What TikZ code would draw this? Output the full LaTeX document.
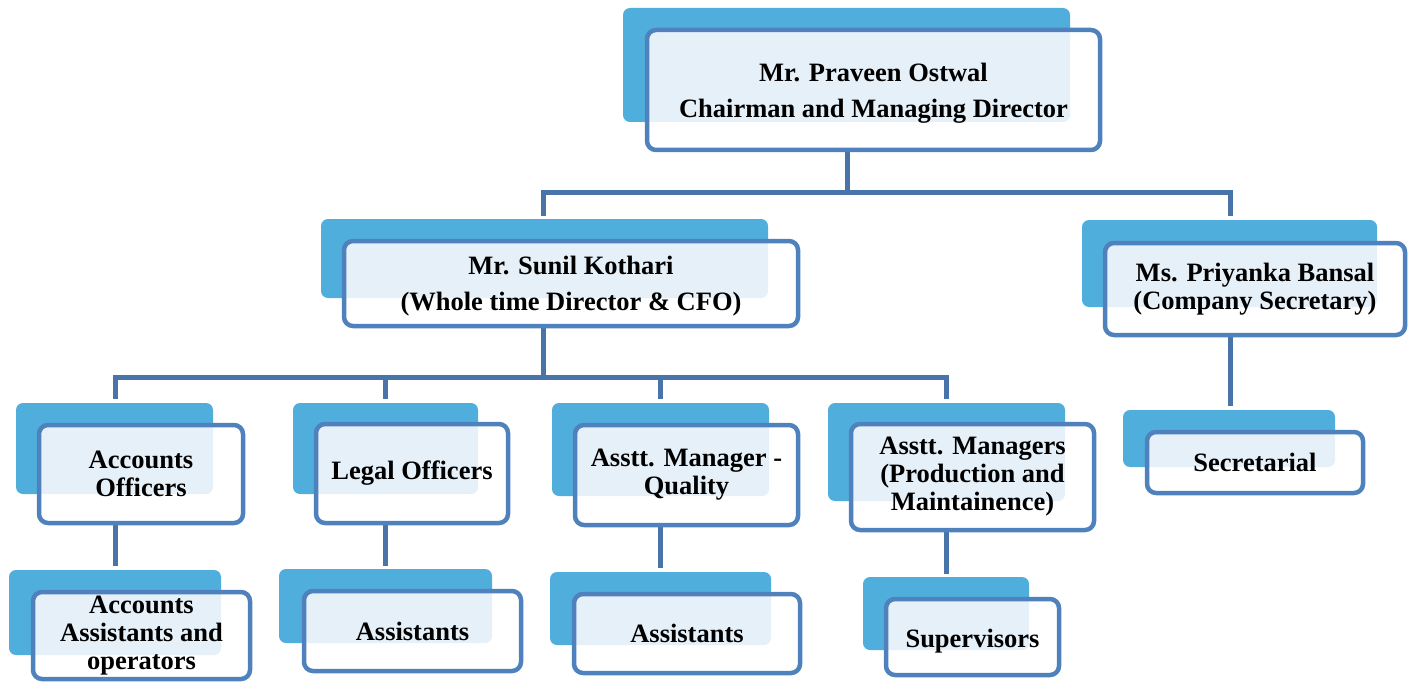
\documentclass[tikz,border=0pt]{standalone}
\usepackage{fontspec}
\setmainfont{Liberation Serif}
\usetikzlibrary{fit}
\definecolor{backc}{RGB}{79,174,219}
\definecolor{edgec}{RGB}{79,129,189}
\definecolor{connc}{RGB}{72,116,170}
\definecolor{dotc}{RGB}{230,240,248}
\pgfdeclarelayer{bg}
\pgfsetlayers{bg,main}
\tikzset{
 backbox/.style={fill=backc, rounded corners=7pt},
 frontbox/.style={draw=edgec, line width=4.5pt, rounded corners=9pt, inner sep=0pt, outer sep=0pt},
 txtwide/.style={font=\bfseries\fontsize{26.5}{36}\selectfont, align=center, inner sep=0pt, yshift=-3pt},
 txtnarrow/.style={font=\bfseries\fontsize{26.5}{28}\selectfont, align=center, inner sep=0pt},
 txtlow/.style={txtnarrow, yshift=-4pt},
 conn/.style={draw=connc, line width=5pt, line cap=rect},
}
\newcommand\obox[7]{%
 \fill[backbox] #2 rectangle #3;
 \fill[white, rounded corners=9pt] #4 rectangle #5;
 \begin{scope}
 \clip[rounded corners=9pt] #4 rectangle #5;
 \fill[dotc, rounded corners=7pt] #2 rectangle #3;
 \end{scope}
 \node[frontbox, fit={#4 #5}] (#1) {};
 \node[#6] (#1t) at (#1.center) {#7};
}
\begin{document}
\begin{tikzpicture}[x=1pt,y=-1pt]
\useasboundingbox (0,0) rectangle (1411,682);

\obox{top}{(623,8)}{(1070,122)}{(647,30)}{(1100,150)}{txtwide}{Mr. Praveen Ostwal\\Chairman and Managing Director}
\obox{sunil}{(321,219)}{(768,298)}{(344,241)}{(798,326)}{txtwide}{Mr. Sunil Kothari\\(Whole time Director \& CFO)}
\obox{pri}{(1082,220)}{(1377,307)}{(1105,243)}{(1405,335)}{txtnarrow}{Ms. Priyanka Bansal\\(Company Secretary)}
\obox{sec}{(1123,410)}{(1335,467)}{(1147,432)}{(1363,493)}{txtnarrow}{Secretarial}
\obox{accoff}{(16,403)}{(213,494)}{(39,425)}{(243,523)}{txtnarrow}{Accounts\\Officers}
\obox{accass}{(9,570)}{(221,655)}{(33,592)}{(250,679)}{txtnarrow}{Accounts\\Assistants and\\operators}
\obox{legal}{(293,403)}{(478,494)}{(316,424)}{(508,523)}{txtnarrow}{Legal Officers}
\obox{legass}{(279,569)}{(492,643)}{(304,591)}{(521,671)}{txtnarrow}{Assistants}
\obox{qual}{(552,403)}{(769,496)}{(575,425)}{(798,525)}{txtnarrow}{Asstt. Manager -\\Quality}
\obox{qualass}{(550,572)}{(771,645)}{(574,594)}{(800,673)}{txtnarrow}{Assistants}
\obox{mgr}{(828,403)}{(1065,501)}{(851,424)}{(1094,530)}{txtnarrow}{Asstt. Managers\\(Production and\\Maintainence)}
\obox{sup}{(863,577)}{(1029,650)}{(886,599)}{(1059,675)}{txtlow}{Supervisors}

\coordinate (tj) at (847,192);
\coordinate (busL) at (543,192);
\coordinate (busR) at (1230,192);
\coordinate (sunilIn) at (543,213);
\coordinate (priIn) at (1230,213);
\coordinate (sb) at (543,377);
\coordinate (sbL) at (115,377);
\coordinate (sbR) at (946,377);
\coordinate (d1) at (115,396);
\coordinate (d2) at (385,396);
\coordinate (d3) at (660,396);
\coordinate (d4) at (946,396);
\coordinate (e1) at (115,563);
\coordinate (e2) at (385,563);
\coordinate (e3) at (660,565);
\coordinate (e4) at (946,571);
\coordinate (e5) at (1230,403);

\begin{pgfonlayer}{bg}
\draw[conn] (tj |- top.south) -- (tj);
\draw[conn] (busL) -- (busR);
\draw[conn] (busL) -- (sunilIn);
\draw[conn] (busR) -- (priIn);
\draw[conn] (sb |- sunil.south) -- (sb);
\draw[conn] (sbL) -- (sbR);
\draw[conn] (d1 |- sbL) -- (d1);
\draw[conn] (d2 |- sbL) -- (d2);
\draw[conn] (d3 |- sbL) -- (d3);
\draw[conn] (d4 |- sbL) -- (d4);
\draw[conn] (e1 |- accoff.south) -- (e1);
\draw[conn] (e2 |- legal.south) -- (e2);
\draw[conn] (e3 |- qual.south) -- (e3);
\draw[conn] (e4 |- mgr.south) -- (e4);
\draw[conn] (e5 |- pri.south) -- (e5);
\end{pgfonlayer}
\end{tikzpicture}
\end{document}
